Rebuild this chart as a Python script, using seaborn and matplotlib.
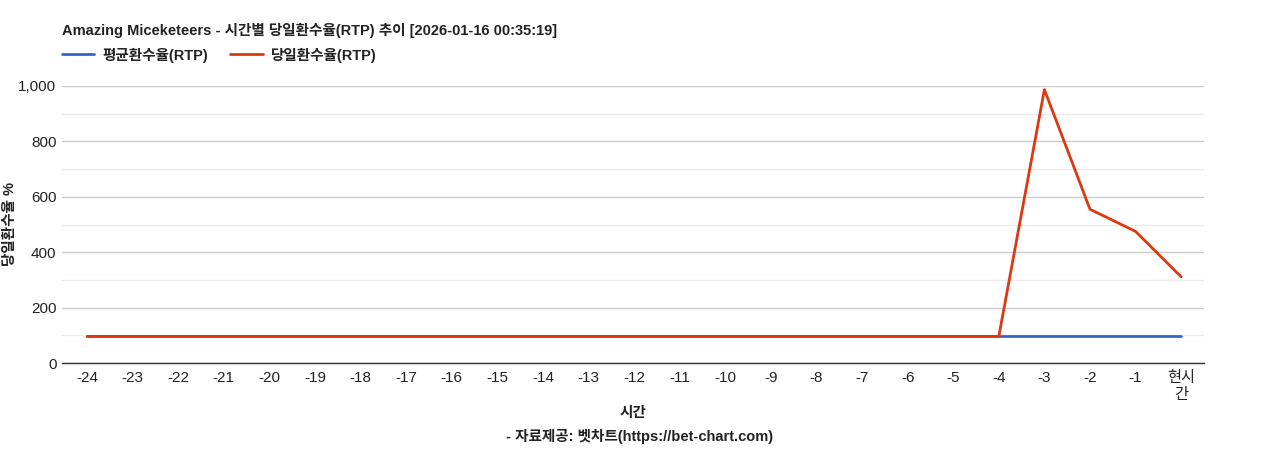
import matplotlib
matplotlib.use("Agg")
import matplotlib.pyplot as plt
import seaborn as sns
import pandas as pd
from matplotlib.ticker import MultipleLocator, FuncFormatter
from matplotlib.lines import Line2D

hours = ["-24", "-23", "-22", "-21", "-20", "-19", "-18", "-17", "-16", "-15", "-14", "-13",
         "-12", "-11", "-10", "-9", "-8", "-7", "-6", "-5", "-4", "-3", "-2", "-1", "현시\n간"]
avg_rtp = [96] * 25
day_rtp = [96] * 21 + [987, 555, 475, 311]

sns.set_theme(style="white")
plt.rcParams['font.family'] = ['Liberation Sans', 'Noto Sans CJK KR', 'DejaVu Sans']

df = pd.DataFrame({
    "pos": list(range(len(hours))) * 2,
    "val": avg_rtp + day_rtp,
    "series": ["평균환수율(RTP)"] * len(hours) + ["당일환수율(RTP)"] * len(hours),
})

fig = plt.figure(figsize=(12.68, 4.5), dpi=100)
ax = fig.add_axes([0.0489, 0.1933, 0.9006, 0.6156])

palette = {"평균환수율(RTP)": "#3366cc", "당일환수율(RTP)": "#dc3912"}
sns.lineplot(data=df, x="pos", y="val", hue="series", palette=palette, ax=ax,
             linewidth=2, legend=False)

ax.set_xlim(-0.55, 24.5)
ax.set_ylim(0, 1000)
ax.yaxis.set_major_locator(MultipleLocator(200))
ax.yaxis.set_minor_locator(MultipleLocator(100))
ax.yaxis.set_major_formatter(FuncFormatter(lambda v, p: f"{int(v):,}"))
ax.set_xticks(range(len(hours)))
ax.set_xticklabels(hours)
ax.grid(axis="y", which="major", color="#cccccc", linewidth=1)
ax.grid(axis="y", which="minor", color="#ebebeb", linewidth=1)
ax.set_axisbelow(True)
for s in ["top", "right", "left"]:
    ax.spines[s].set_visible(False)
ax.spines["bottom"].set_color("#333333")
ax.spines["bottom"].set_linewidth(1)
ax.tick_params(axis="both", which="both", length=0, labelsize=11, colors="#222222")
ax.tick_params(axis="x", pad=6)
ax.tick_params(axis="y", pad=4)

ax.set_xlabel("")
ax.set_ylabel("")
fig.text(10 / 1268, 1 - 224 / 450, "당일환수율 %", rotation=90, fontsize=10.5, fontweight="bold",
         ha="center", va="center", color="#222222")

fig.text(62 / 1268, 1 - 30 / 450, "Amazing Miceketeers - 시간별 당일환수율(RTP) 추이 [2026-01-16 00:35:19]",
         fontsize=10.5, fontweight="bold", ha="left", va="center", color="#222222")

handles = [Line2D([0], [0], color="#3366cc", lw=2), Line2D([0], [0], color="#dc3912", lw=2)]
leg = fig.legend(handles, ["평균환수율(RTP)", "당일환수율(RTP)"], loc="center left",
                 bbox_to_anchor=(62 / 1268, 1 - 55 / 450), ncol=2, frameon=False,
                 prop={"weight": "bold", "size": 10.5}, handlelength=2.2, columnspacing=1.5,
                 handletextpad=0.6, borderaxespad=0, borderpad=0)
for t in leg.get_texts():
    t.set_color("#222222")

fig.text(633 / 1268, 1 - 413 / 450, "시간", fontsize=10.5, fontweight="bold",
         ha="center", va="center", color="#222222")
fig.text(640 / 1268, 1 - 437 / 450, "- 자료제공: 벳차트(https://bet-chart.com)", fontsize=10.5,
         fontweight="bold", ha="center", va="center", color="#222222")

fig.savefig("out.png", dpi=100)
